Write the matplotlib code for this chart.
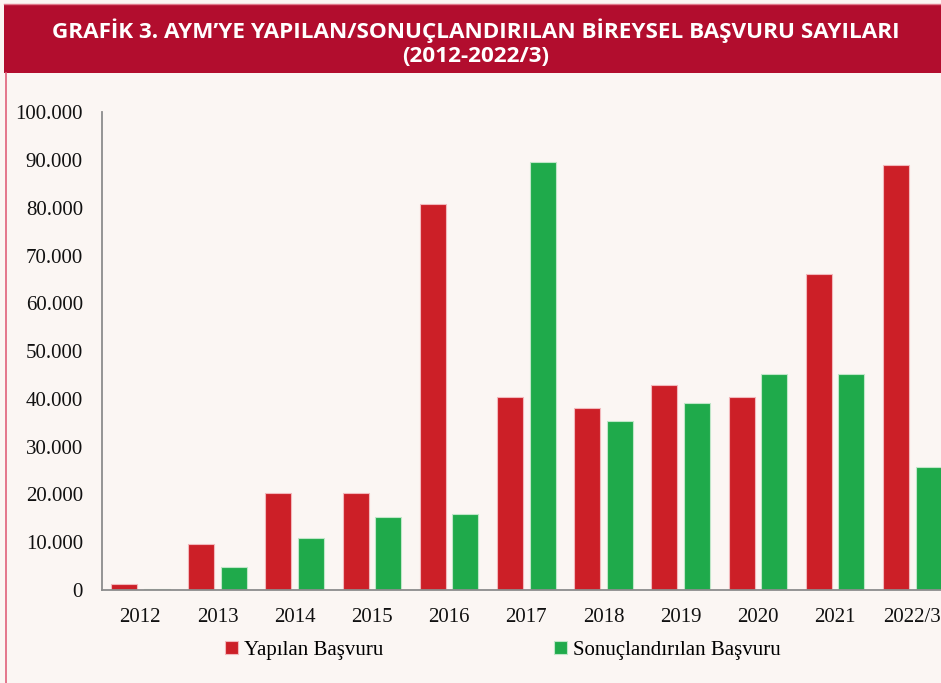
import matplotlib
matplotlib.use("Agg")
import matplotlib.pyplot as plt
import numpy as np
from matplotlib.patches import Rectangle
from matplotlib.lines import Line2D
from matplotlib.ticker import FuncFormatter

categories = ["2012", "2013", "2014", "2015", "2016", "2017", "2018", "2019", "2020", "2021", "2022/3"]
yapilan = [1342, 9700, 20400, 20250, 80700, 40400, 38100, 42900, 40300, 66100, 89050]
sonuclandirilan = [150, 4750, 10850, 15300, 15900, 89700, 35300, 39200, 45300, 45300, 25700]
series_names = ["Yapılan Başvuru", "Sonuçlandırılan Başvuru"]
title_text = "GRAFİK 3. AYM’YE YAPILAN/SONUÇLANDIRILAN BİREYSEL BAŞVURU SAYILARI\n(2012-2022/3)"

W, H = 941, 683
RED = "#cc1f27"
GREEN = "#1faa4b"
BANNER = "#b20d2e"
BG = "#fbf6f3"

fig = plt.figure(figsize=(W / 100, H / 100), dpi=100, facecolor=BG)

def fx(px):
    return px / W

def fy(py):
    return 1 - py / H

# banner
fig.patches.append(Rectangle((fx(4), fy(73)), 1, (73 - 5) / H, transform=fig.transFigure,
                             facecolor=BANNER, edgecolor="none", zorder=0))
fig.lines.append(Line2D([fx(6), fx(6)], [0, fy(73)], transform=fig.transFigure,
                        color="#e0607a", lw=1.2))
fig.lines.append(Line2D([fx(4), 1], [fy(4), fy(4)], transform=fig.transFigure,
                        color="#e07a8c", lw=1.0))
fig.text(fx(476), fy(43), title_text, ha="center", va="center", color="white",
         fontsize=16.2, fontweight="bold", family="Open Sans", linespacing=1.2)

# axes: x range -0.5..10.5 spans 101.7 -> 951
left, right = 101.7, 101.7 + 11 * 77.2
top, bottom = 112.3, 590
ax = fig.add_axes([fx(left), fy(bottom), fx(right - left), (bottom - top) / H])
ax.set_facecolor(BG)

x = np.arange(len(categories))
bw = 0.337
off = 0.21
ax.bar(x - off, yapilan, bw, color=RED, edgecolor="#f2b8bc", linewidth=0.8, label=series_names[0], zorder=2)
ax.bar(x + off, sonuclandirilan, bw, color=GREEN, edgecolor="#bfe6c8", linewidth=0.8, label=series_names[1], zorder=2)

ax.set_xlim(-0.5, len(categories) - 0.5)
ax.set_ylim(0, 100000)
ax.set_yticks(np.arange(0, 100001, 10000))
ax.yaxis.set_major_formatter(FuncFormatter(lambda v, p: f"{int(v):,}".replace(",", ".")))
ax.set_xticks(x)
ax.set_xticklabels(categories)

for s in ["top", "right"]:
    ax.spines[s].set_visible(False)
for s in ["left", "bottom"]:
    ax.spines[s].set_color("#8c8c8c")
    ax.spines[s].set_linewidth(1.3)

ax.tick_params(axis="both", length=0, labelsize=15, colors="#111111")
ax.tick_params(axis="y", pad=13.5)
ax.tick_params(axis="x", pad=13)
for lab in ax.get_xticklabels() + ax.get_yticklabels():
    lab.set_family("Liberation Serif")
for lab in ax.get_xticklabels():
    lab.set_clip_on(False)

leg = fig.legend(loc="center", bbox_to_anchor=(fx(503), fy(650)), ncol=2, frameon=False,
                 prop={"family": "Liberation Serif", "size": 15},
                 handlelength=0.6, handleheight=0.6, handletextpad=0.3, columnspacing=8.2)

fig.savefig("out.png", dpi=100, facecolor=BG)
